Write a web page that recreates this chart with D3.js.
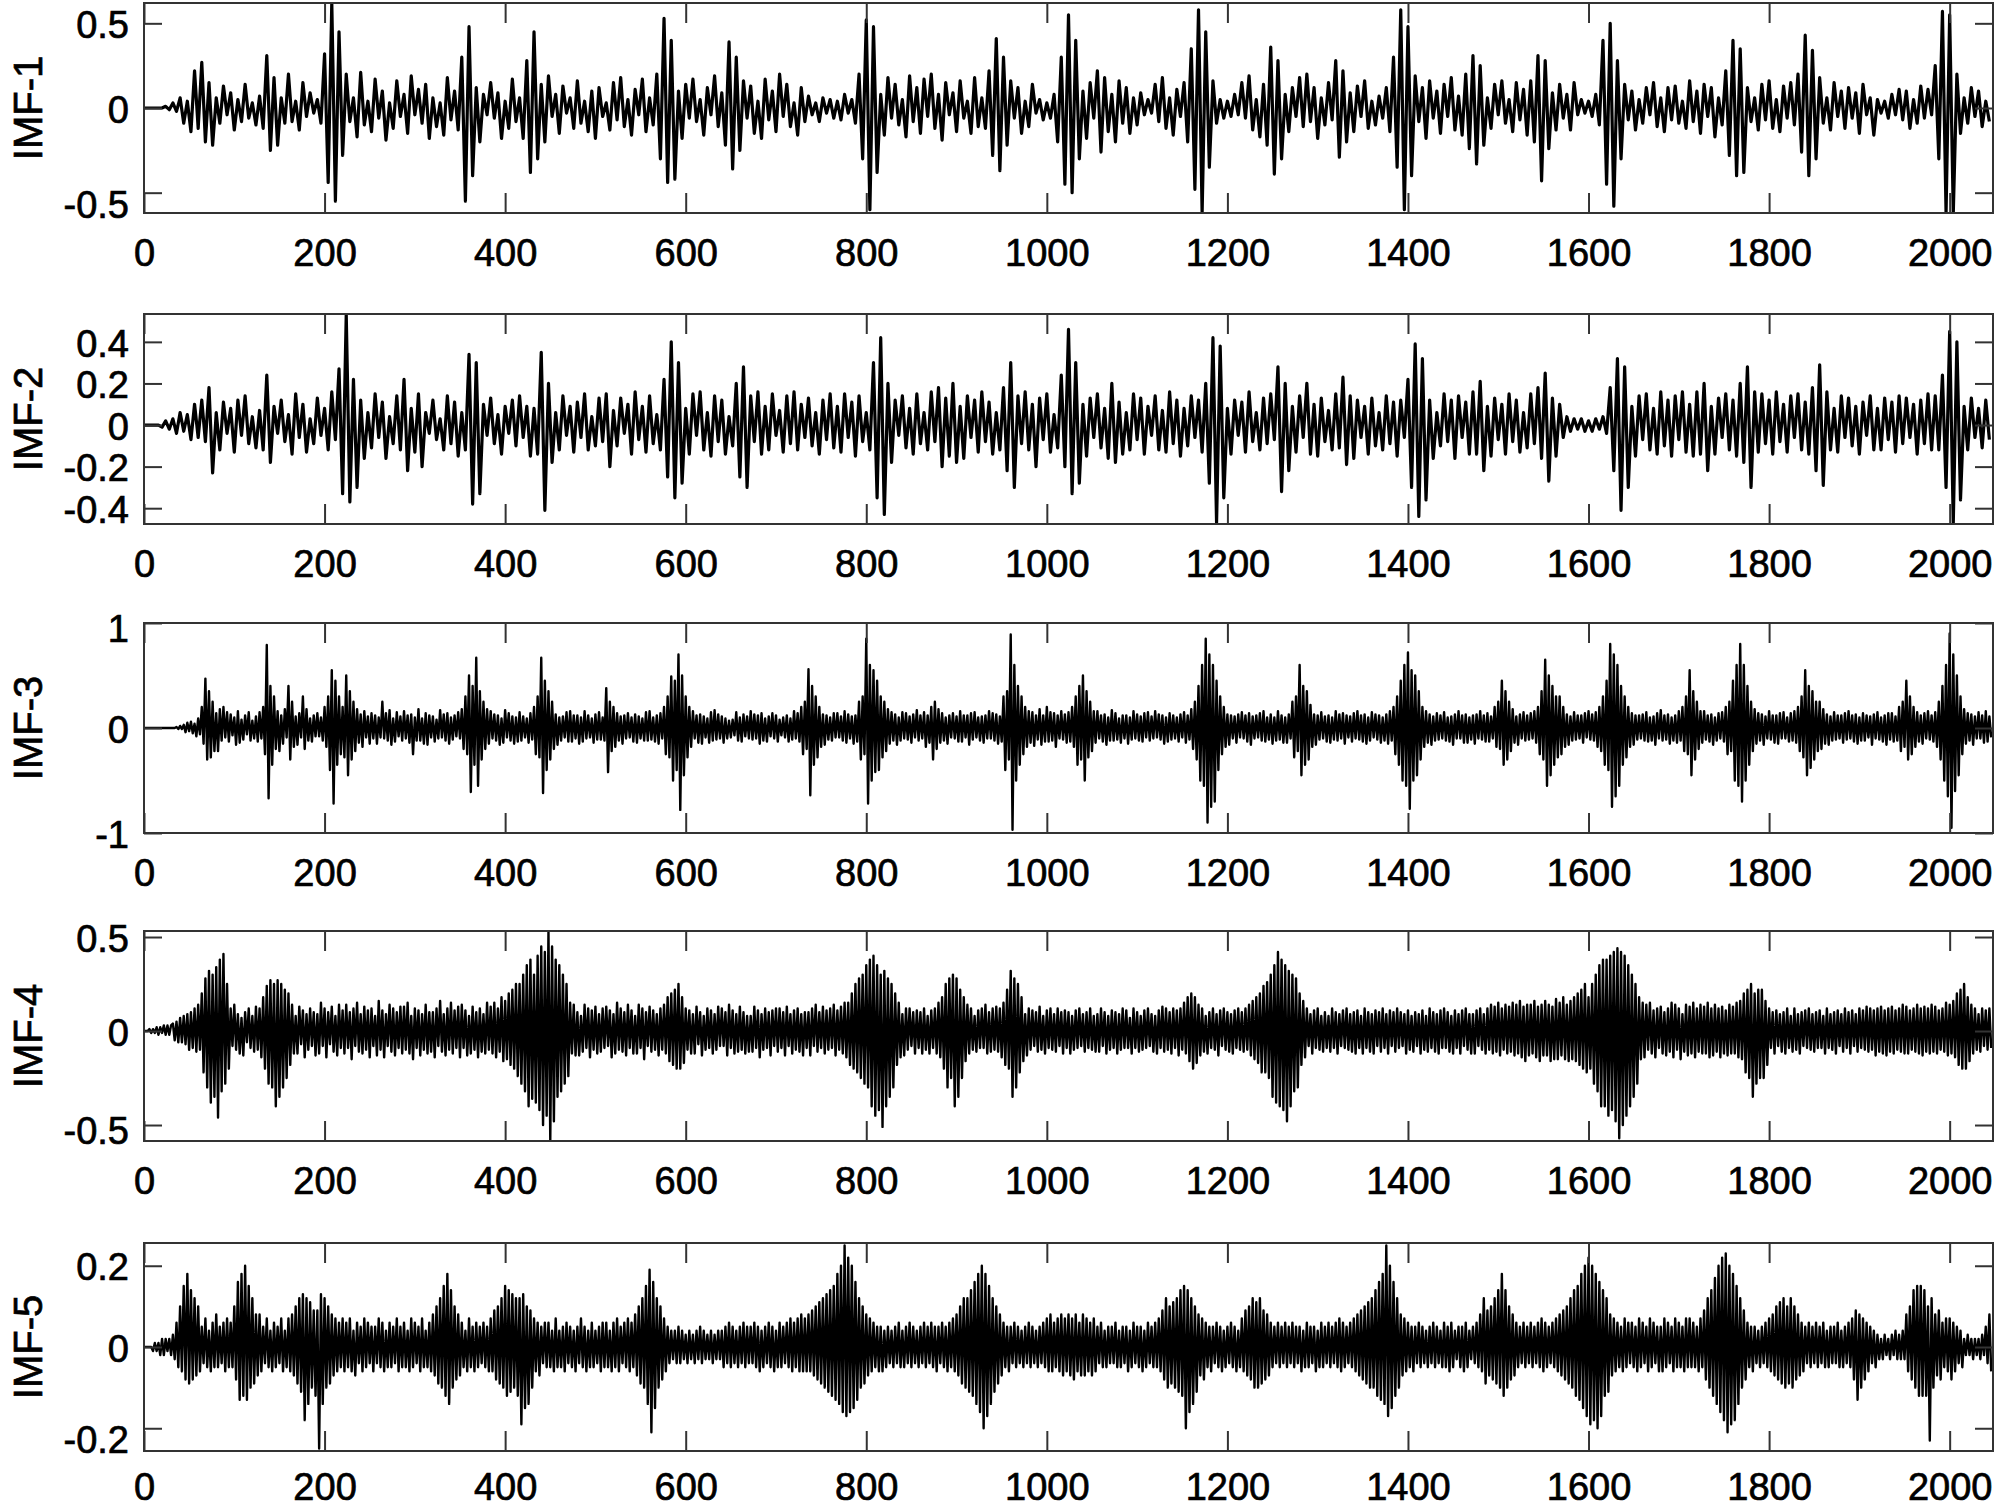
<!DOCTYPE html>
<html><head><meta charset="utf-8">
<script src="https://cdn.jsdelivr.net/npm/d3@7"></script>
<style>
body{margin:0;background:#fff}
svg text{font-family:"Liberation Sans",Arial,Helvetica,sans-serif;fill:#000}
</style>
</head><body>
<svg id="chart" width="2000" height="1510"></svg>
<script>
// ---------- DATA (values in hundredths; one value every N samples, N given per series) ----------
const VALUE_UNIT = 0.01;
const sampleSteps = [4, 4, 2, 2, 2];
const xTickValues = [0,200,400,600,800,1000,1200,1400,1600,1800,2000];
const seriesNames = ["IMF-1","IMF-2","IMF-3","IMF-4","IMF-5"];
const yTicks1 = [-0.5,0,0.5];
const yTicks2 = [-0.4,-0.2,0,0.2,0.4];
const yTicks3 = [-1,0,1];
const yTicks4 = [-0.5,0,0.5];
const yTicks5 = [-0.2,0,0.2];
const yDomain1 = [-0.62,0.62];
const yDomain2 = [-0.476,0.534];
const yDomain3 = [-1,1];
const yDomain4 = [-0.585,0.532];
const yDomain5 = [-0.256,0.256];

const imf1 = [
0,0,0,0,0,0,1,-1, 3,-2,6,-9,4,-14,22,-12, 27,-20,15,-22,6,-9,13,-4, 9,-13,5,-8,14,-6,3,-10, 7,-12,31,-25,18,-22,6,-9, 20,-8,4,-13,15,-5,9,-3, 5,-9,32,-44,62,-55,45,-28, 20,-8,6,-17,21,-10,4,-14,
17,-6,10,-19,3,-12,16,-5, 8,-15,19,-4,11,-9,14,-18, 6,-11,3,-16,18,-7,10,-13, 30,-55,48,-40,12,-20,8,-4, 15,-6,9,-18,4,-12,17,-8, 6,-18,28,-38,45,-30,14,-20, 19,-5,8,-15,13,-3,6,-12, 16,-9,4,-14,10,-18,12,-5,
3,-13,15,-7,18,-11,5,-16, 11,-4,17,-14,6,-10,20,-30, 53,-44,40,-42,10,-18,14,-6, 17,-8,5,-16,12,-4,19,-11, 9,-22,39,-36,30,-25,16,-6, 13,-15,4,-18,17,-7,10,-14, 20,-5,14,-11,3,-16,12,-8, 7,-4,3,-8,6,-3,5,-6,
4,-7,8,-3,5,-9,20,-30, 52,-60,48,-38,8,-16,18,-6, 14,-10,5,-17,19,-8,12,-15, 17,-5,20,-12,8,-19,15,-4, 9,-14,16,-6,4,-15,18,-11, 6,-12,22,-28,41,-37,30,-22, 16,-6,12,-15,4,-11,14,-3, 5,-7,3,-6,8,-20,30,-45,
55,-50,40,-30,10,-18,15,-6, 22,-26,18,-14,8,-20,16,-9, 12,-15,6,-10,9,-4,5,-3, 14,-8,18,-12,6,-16,11,-5, 15,-20,35,-48,58,-62,45,-35, 16,-9,5,-6,4,-5,8,-4, 15,-6,19,-13,5,-17,14,-22, 36,-39,28,-30,8,-14,12,-5,
18,-11,20,-8,12,-18,6,-10, 15,-7,28,-29,22,-20,9,-14, 13,-5,16,-12,4,-10,7,-6, 12,-14,30,-35,58,-60,48,-40, 19,-8,12,-18,16,-6,10,-15, 14,-5,18,-13,7,-16,20,-24, 31,-33,25,-22,6,-12,14,-4, 16,-9,5,-14,15,-7,11,-16,
16,-20,31,-43,28,-24,9,-13, 14,-6,8,-13,15,-4,5,-3, 4,-5,8,-10,40,-45,50,-58, 28,-30,14,-7,10,-13,5,-9, 12,-4,15,-11,6,-14,12,-7, 13,-9,4,-12,16,-8,10,-15, 14,-5,12,-17,6,-10,22,-28, 40,-40,35,-38,12,-8,6,-13,
14,-7,16,-12,5,-14,13,-6, 15,-10,20,-26,43,-40,34,-30, 18,-9,6,-13,15,-5,10,-12, 12,-6,9,-15,14,-4,6,-16, 5,-3,4,-6,8,-4,11,-7, 10,-12,5,-9,13,-6,11,-4, 25,-30,57,-62,55,-62,20,-15, 6,-9,12,-5,10,-11,4,-8
];

const imf2 = [
0,0,0,0,0,-1,2,-2, 3,-4,6,-3,5,-7,10,-6, 12,-8,18,-23,6,-12,11,-4, 8,-13,12,-5,14,-9,4,-11, 7,-12,24,-18,9,-4,12,-8, 5,-14,15,-6,10,-13,3,-9, 13,-5,8,-12,16,-7,27,-33, 53,-37,22,-30,12,-16,6,-11,
15,-6,11,-16,4,-9,14,-12, 22,-22,8,-13,15,-20,6,-4, 12,-7,3,-12,14,-9,11,-15, 6,-12,34,-38,30,-33,10,-5, 13,-9,5,-14,9,-4,12,-10, 14,-6,9,-15,8,-14,35,-41, 20,-18,6,-12,14,-5,9,-13, 11,-6,15,-12,4,-10,13,-8,
15,-20,7,-10,13,-4,10,-14, 16,-7,9,-13,14,-9,5,-12, 22,-25,40,-35,30,-28,8,-14, 15,-5,16,-12,6,-15,14,-8, 12,-14,4,-10,20,-25,28,-30, 14,-8,16,-14,9,-12,15,-5, 7,-13,14,-9,16,-12,10,-6, 13,-10,6,-14,12,-7,15,-11,
9,-13,15,-6,11,-15,14,-8, 6,-12,30,-35,42,-43,20,-18, 12,-5,14,-11,8,-14,15,-9, 6,-12,16,-8,18,-20,13,-15, 20,-18,9,-16,14,-6,12,-13, 16,-8,11,-14,6,-12,18,-22, 30,-30,14,-9,16,-12,10,-20, 13,-7,15,-13,5,-11,24,-20,
46,-33,30,-28,10,-15,13,-6, 15,-11,8,-16,20,-18,11,-14, 6,-12,15,-7,13,-14,9,-5, 14,-12,7,-13,16,-9,12,-15, 8,-10,14,-6,12,-13,20,-28, 42,-47,38,-35,8,-14,12,-5, 11,-13,16,-8,6,-12,13,-9, 15,-7,28,-32,20,-22,9,-13,
14,-6,20,-14,10,-15,13,-8, 7,-12,15,-11,23,-19,14,-16, 12,-6,9,-14,13,-10,6,-12, 14,-9,11,-15,12,-6,22,-30, 39,-44,32,-36,12,-16,6,-10, 15,-8,12,-16,14,-6,11,-14, 16,-14,21,-22,9,-15,13,-7, 10,-14,15,-8,12,-13,6,-11,
15,-9,18,-16,25,-27,13,-15, 10,-6,4,-3,3,-2,3,-3, 2,-3,3,-2,4,-4,18,-22, 32,-41,28,-30,9,-15,14,-7, 15,-12,8,-14,16,-10,12,-15, 14,-7,16,-13,10,-15,16,-14, 20,-22,9,-14,13,-6,15,-12, 12,-15,20,-18,28,-30,16,-13,
15,-9,12,-14,16,-8,10,-13, 14,-6,15,-12,11,-14,18,-22, 29,-29,16,-12,8,-13,14,-6, 13,-10,9,-14,11,-5,14,-12, 8,-12,13,-7,11,-13,14,-9, 13,-6,10,-14,12,-9,15,-12, 14,-12,24,-30,45,-47,40,-36, 9,-12,13,-6,8,-11,12,-7
];

const imf3 = [
0,0,0,0,0,0,0,0,0,0,0,0,0,0,0,0, 0,0,1,-1,2,-1,3,-4,5,-3,6,-5,4,-8,9,-6,
20,-15,47,-30,35,-28,25,-22,14,-22,18,-12,20,-9,15,-13, 13,-7,10,-16,16,-14,8,-11,12,-6,15,-12,7,-10,11,-13,
15,-10,20,-25,79,-67,40,-35,30,-20,16,-22,12,-15,18,-9, 40,-30,25,-18,11,-16,14,-9,30,-20,18,-12,9,-13,12,-8,
14,-8,10,-12,20,-18,30,-40,55,-72,45,-35,30,-25,20,-28, 50,-45,35,-30,25,-22,18,-14,13,-18,16,-9,11,-15,14,-10,
12,-15,10,-9,25,-10,14,-12,17,-16,9,-13,15,-8,11,-12, 16,-10,12,-14,13,-25,10,-12,18,-12,9,-15,14,-16,12,-9,
11,-13,8,-10,17,-9,13,-12,14,-15,10,-11,12,-8,15,-10, 18,-20,30,-25,50,-61,40,-35,67,-55,35,-30,25,-20,18,-15,
16,-10,13,-12,12,-16,9,-14,17,-9,14,-12,11,-15,10,-13, 15,-12,11,-9,9,-14,14,-11,20,-25,30,-28,67,-62,45,-40,
35,-30,25,-20,13,-16,10,-12,11,-9,15,-13,16,-13,12,-10, 12,-15,10,-13,16,-10,12,-9,9,-14,13,-11,15,-11,10,-12,
38,-42,25,-22,20,-18,14,-12,11,-15,12,-10,14,-9,10,-13, 13,-14,11,-10,9,-12,15,-12,16,-11,10,-13,12,-15,14,-10,
20,-25,30,-28,49,-50,45,-40,70,-78,50,-45,30,-28,20,-18, 16,-10,12,-14,13,-15,11,-9,9,-14,15,-12,17,-11,13,-10,
11,-14,9,-10,7,-9,8,-7,15,-12,10,-13,13,-8,11,-10, 16,-11,13,-10,12,-15,14,-12,9,-13,11,-8,14,-10,12,-13,
8,-7,10,-9,12,-13,9,-11,16,-10,14,-13,20,-25,25,-20, 56,-64,40,-35,30,-28,20,-18,13,-16,12,-11,10,-12,14,-9,
14,-9,11,-12,16,-14,13,-10,11,-15,12,-13,25,-30,30,-25, 85,-72,60,-50,55,-42,45,-40,30,-28,25,-22,18,-15,15,-12,
13,-16,10,-12,15,-10,14,-11,11,-14,13,-9,17,-12,12,-10, 15,-18,12,-14,20,-30,25,-20,18,-14,14,-12,10,-15,12,-9,
14,-10,11,-13,16,-13,12,-9,12,-16,14,-11,15,-9,10,-12, 11,-14,12,-10,16,-10,14,-12,13,-15,11,-13,30,-40,35,-30,
89,-97,60,-50,40,-35,30,-25,20,-18,16,-14,15,-17,12,-11, 18,-16,12,-13,20,-13,15,-12,14,-18,12,-10,16,-11,13,-14,
15,-13,20,-18,30,-35,40,-30,50,-50,35,-28,25,-22,16,-14, 16,-10,12,-13,13,-16,10,-12,17,-12,14,-11,9,-14,12,-10,
12,-15,10,-11,16,-10,13,-12,11,-13,14,-9,15,-12,11,-10, 16,-9,13,-11,12,-15,10,-13,14,-11,12,-10,10,-13,13,-9,
15,-14,12,-11,18,-20,25,-30,40,-50,60,-55,85,-90,70,-75, 60,-70,45,-40,30,-25,20,-18,13,-16,12,-10,11,-14,13,-9,
15,-10,12,-13,14,-16,11,-10,12,-9,14,-12,16,-13,10,-11, 13,-15,10,-12,16,-11,12,-14,10,-14,13,-10,25,-28,30,-22,
60,-45,40,-35,35,-30,22,-18,13,-16,12,-11,15,-10,11,-13, 12,-14,10,-11,16,-12,13,-10,14,-15,12,-9,11,-13,14,-10,
16,-11,12,-13,13,-15,10,-12,15,-9,13,-11,12,-14,10,-12, 13,-15,16,-12,20,-25,30,-35,45,-50,60,-55,72,-77,55,-50,
50,-45,35,-30,20,-18,16,-14,13,-16,11,-12,14,-11,12,-10, 15,-12,10,-13,11,-16,13,-10,16,-10,12,-14,13,-14,10,-11,
12,-15,13,-10,16,-11,12,-13,14,-13,11,-10,20,-18,25,-20, 45,-35,35,-30,25,-22,18,-14,11,-16,13,-10,15,-12,12,-11,
14,-10,16,-14,20,-25,35,-30,65,-55,50,-45,40,-35,30,-28, 30,-25,20,-18,13,-16,11,-12,15,-11,12,-10,12,-14,14,-9,
16,-11,13,-12,15,-18,20,-22,30,-35,45,-40,80,-75,70,-65, 60,-55,40,-35,30,-28,20,-18,14,-16,12,-11,12,-10,13,-12,
15,-13,10,-12,11,-16,14,-10,17,-12,12,-11,13,-15,10,-12, 12,-14,16,-12,20,-22,30,-25,55,-45,35,-30,25,-20,16,-14,
16,-11,12,-13,13,-16,10,-12,14,-10,15,-13,20,-25,25,-22, 45,-50,60,-55,80,-70,60,-50,40,-35,25,-22,18,-15,14,-12,
13,-16,11,-10,16,-11,12,-14,12,-15,14,-10,15,-10,10,-13, 14,-12,16,-14,20,-22,30,-28,55,-45,40,-38,35,-30,25,-22,
25,-20,18,-15,13,-16,11,-12,15,-11,12,-10,12,-14,14,-11, 16,-10,12,-13,13,-15,10,-12,14,-12,12,-9,11,-16,13,-10,
15,-11,10,-13,12,-16,14,-11,14,-13,11,-12,20,-22,25,-18, 45,-30,30,-25,20,-18,15,-13,12,-15,14,-10,16,-11,12,-13,
15,-18,25,-30,40,-50,60,-65,90,-95,70,-60,50,-45,30,-25, 18,-15,14,-12,13,-16,11,-10,15,-10,12,-14,16,-13,11,-9
];

const imf4 = [
0,0,0,1,-1,1,-1,2,-2,2,-1,3,-2,3,-2,3, 4,-5,5,-6,7,-6,8,-7,9,-10,10,-9,12,-11,14,-10,
20,-22,28,-30,32,-38,30,-35,34,-46,38,-32,41,-28,25,-20, 12,-8,14,-10,9,-12,7,-13,10,-6,12,-9,8,-11,13,-10,
12,-14,18,-20,24,-28,27,-30,25,-40,27,-35,25,-30,22,-25, 20,-18,14,-12,8,-12,13,-7,11,-14,9,-10,12,-8,10,-13,
9,-12,15,-8,12,-14,10,-7,13,-11,8,-13,14,-9,11,-12, 14,-9,10,-15,12,-8,15,-11,9,-12,13,-10,11,-14,12,-8,
8,-13,16,-10,11,-14,9,-8,14,-11,12,-13,10,-9,13,-12, 13,-10,15,-12,8,-15,12,-9,11,-13,9,-10,14,-12,10,-11,
10,-14,12,-8,16,-11,9,-13,12,-10,15,-12,11,-9,13,-14, 14,-9,11,-13,8,-12,13,-10,10,-14,12,-11,9,-12,15,-10,
13,-12,15,-14,12,-11,18,-16,16,-15,20,-18,22,-20,25,-24, 25,-28,30,-32,35,-40,38,-36,30,-38,40,-42,45,-50,42,-45,
53,-58,45,-48,38,-35,35,-32,30,-28,25,-24,15,-12,14,-13, 10,-13,8,-11,14,-9,12,-14,11,-10,13,-12,9,-11,12,-9,
13,-8,11,-14,9,-12,15,-10,12,-11,10,-13,14,-9,11,-12, 8,-12,14,-9,12,-15,10,-8,13,-11,11,-10,9,-13,12,-10,
14,-12,18,-16,20,-18,22,-20,25,-20,18,-17,12,-10,11,-12, 9,-12,13,-7,10,-13,8,-10,12,-9,11,-12,9,-10,13,-8,
12,-8,10,-13,14,-9,11,-12,9,-11,13,-10,10,-12,8,-11, 8,-11,13,-9,11,-14,9,-10,12,-9,10,-13,11,-8,12,-11,
12,-9,10,-13,13,-8,9,-12,11,-10,12,-11,9,-13,10,-9, 10,-13,12,-8,14,-11,10,-9,13,-12,11,-10,12,-9,14,-13,
11,-10,13,-12,15,-14,15,-18,20,-20,25,-22,28,-25,30,-28, 35,-30,38,-40,40,-45,35,-42,30,-51,32,-40,28,-35,25,-30,
20,-18,15,-14,9,-13,12,-10,12,-8,10,-12,11,-9,10,-12, 12,-10,8,-12,11,-9,12,-12,15,-14,18,-20,25,-30,28,-25,
30,-40,28,-35,22,-25,18,-16,14,-12,12,-10,8,-11,11,-9, 12,-9,14,-12,10,-11,12,-10,13,-11,12,-14,15,-18,22,-20,
32,-35,28,-30,25,-22,18,-16,9,-13,12,-10,11,-8,10,-11, 13,-10,8,-12,11,-9,12,-10,9,-11,12,-8,10,-12,11,-9,
10,-12,8,-10,11,-9,12,-8,9,-11,10,-9,12,-10,8,-11, 9,-11,12,-8,10,-12,8,-10,11,-9,10,-12,9,-10,12,-9,
11,-9,7,-12,12,-9,10,-11,8,-10,11,-9,12,-8,9,-11, 8,-12,11,-9,13,-11,12,-10,10,-12,12,-9,11,-13,12,-10,
15,-12,18,-16,20,-20,18,-17,14,-13,12,-11,8,-12,10,-9, 12,-10,9,-13,11,-8,12,-10,10,-11,9,-12,11,-9,12,-10,
10,-11,12,-10,14,-13,16,-15,18,-17,20,-22,24,-22,26,-25, 30,-35,35,-38,42,-40,38,-42,35,-48,32,-40,30,-32,28,-30,
20,-18,16,-14,12,-8,9,-12,11,-9,12,-10,8,-11,10,-9, 8,-11,12,-9,10,-12,9,-8,11,-9,12,-10,9,-11,10,-12,
11,-9,8,-12,12,-9,10,-11,9,-12,11,-8,10,-11,12,-9, 9,-12,11,-8,10,-11,12,-9,10,-8,9,-12,11,-10,8,-11,
10,-8,9,-12,11,-10,8,-11,12,-9,10,-11,9,-12,11,-9, 12,-9,10,-11,8,-12,11,-9,9,-12,11,-8,12,-10,9,-12,
9,-12,11,-8,12,-10,9,-12,12,-10,14,-12,13,-11,15,-13, 12,-10,14,-12,13,-11,15,-13,14,-12,16,-14,13,-16,14,-13,
14,-12,16,-14,13,-16,14,-13,16,-13,14,-16,13,-15,17,-15, 15,-13,18,-15,14,-16,16,-15,18,-16,20,-18,22,-20,25,-22,
18,-20,25,-28,30,-32,35,-40,38,-40,38,-45,40,-42,42,-48, 44,-57,42,-50,40,-45,35,-40,30,-35,25,-28,18,-15,15,-14,
14,-10,15,-12,11,-14,12,-9,13,-12,10,-13,12,-11,15,-14, 14,-10,12,-15,9,-11,14,-13,13,-12,15,-14,12,-11,14,-12,
13,-12,15,-14,12,-13,14,-11,12,-14,13,-12,11,-13,14,-12, 13,-12,15,-14,16,-15,20,-22,22,-25,25,-35,20,-28,22,-25,
22,-25,16,-18,12,-9,10,-12,11,-8,9,-11,10,-12,12,-9, 8,-11,12,-10,9,-12,10,-8,11,-9,12,-10,9,-11,10,-9,
11,-9,8,-12,12,-9,9,-10,10,-12,11,-8,9,-11,12,-9, 10,-12,11,-8,9,-11,12,-9,11,-10,13,-11,12,-10,11,-13,
12,-11,13,-12,11,-13,12,-11,13,-12,11,-10,12,-11,14,-12, 13,-12,11,-10,12,-11,14,-12,12,-13,13,-11,12,-12,14,-11,
13,-12,11,-10,12,-11,15,-13,14,-12,16,-14,20,-18,22,-20, 25,-20,18,-16,14,-12,12,-10,9,-11,12,-8,11,-10,12,-9
];

const imf5 = [
0,0,0,0,0,-1,1,-1,1,-2,2,-2,2,-1,2,-2, 3,-3,6,-5,10,-6,15,-8,18,-9,14,-8,12,-7,10,-6,
5,-4,7,-5,4,-6,6,-5,8,-5,5,-4,6,-6,7,-5, 6,-5,10,-8,16,-13,18,-12,20,-13,15,-10,12,-9,8,-7,
8,-6,5,-4,7,-5,4,-6,6,-5,5,-4,7,-6,4,-5, 7,-6,8,-7,10,-9,12,-11,13,-18,12,-14,11,-10,9,-12,
9,-25,13,-14,12,-10,10,-9,8,-7,7,-6,6,-5,7,-6, 6,-5,7,-6,4,-7,6,-4,5,-6,7,-5,6,-4,5,-6,
5,-4,7,-5,6,-6,4,-5,6,-5,5,-4,7,-6,5,-5, 6,-5,4,-6,7,-5,6,-4,5,-6,7,-5,4,-5,6,-6,
8,-7,10,-9,12,-10,15,-12,18,-14,14,-10,10,-8,8,-7, 6,-5,4,-6,7,-5,5,-6,6,-5,5,-4,6,-5,5,-6,
7,-6,9,-8,10,-9,12,-10,15,-12,14,-11,13,-10,12,-12, 12,-19,13,-15,10,-14,9,-10,7,-6,6,-7,5,-4,6,-5,
6,-5,4,-6,7,-5,4,-5,5,-6,6,-4,5,-5,4,-6, 5,-4,7,-5,5,-6,4,-5,6,-5,4,-4,5,-6,6,-5,
6,-5,4,-6,6,-5,7,-6,5,-4,6,-5,7,-6,6,-5, 8,-7,10,-9,12,-10,15,-14,19,-21,16,-15,12,-10,10,-8,
7,-6,5,-4,4,-3,4,-4,5,-4,4,-3,3,-4,4,-3, 3,-4,4,-3,5,-4,4,-3,3,-3,4,-4,3,-3,4,-3,
4,-5,5,-4,6,-5,5,-4,4,-5,5,-4,6,-5,5,-4, 5,-4,6,-5,5,-6,4,-5,5,-4,6,-5,5,-6,4,-5,
6,-5,5,-4,6,-5,7,-6,6,-5,7,-6,8,-6,7,-6, 8,-6,9,-7,10,-8,11,-9,12,-10,13,-11,14,-12,15,-13,
18,-14,20,-16,25,-17,22,-16,20,-15,16,-13,12,-10,10,-9, 8,-7,7,-6,6,-5,5,-6,5,-6,4,-5,5,-4,4,-5,
5,-4,6,-5,4,-5,5,-4,6,-5,5,-4,4,-5,5,-4, 6,-5,5,-4,6,-5,5,-6,5,-4,6,-5,5,-6,6,-5,
7,-6,8,-7,10,-9,12,-10,12,-11,14,-12,16,-14,18,-16, 20,-20,18,-17,15,-14,12,-11,10,-9,8,-7,6,-5,5,-6,
5,-4,6,-5,5,-4,4,-5,5,-4,6,-5,5,-4,4,-5, 5,-4,6,-5,7,-6,8,-6,6,-5,7,-6,8,-7,7,-6,
8,-7,7,-8,8,-6,6,-7,8,-7,7,-6,6,-7,7,-6, 5,-4,6,-5,4,-5,5,-4,5,-4,6,-5,4,-5,5,-4,
5,-6,4,-5,6,-4,5,-5,5,-6,4,-5,6,-4,5,-5, 6,-5,7,-6,9,-8,12,-10,10,-9,11,-10,12,-11,14,-12,
15,-20,14,-16,12,-14,10,-11,8,-7,7,-8,6,-5,5,-6, 5,-4,6,-5,5,-6,4,-5,5,-4,6,-5,5,-6,4,-5,
7,-6,9,-7,10,-8,12,-10,11,-10,12,-9,9,-8,8,-7, 6,-5,5,-4,6,-5,5,-4,6,-5,5,-4,6,-5,5,-4,
5,-6,4,-5,6,-5,5,-4,5,-6,4,-5,6,-5,5,-4, 6,-5,5,-4,6,-5,7,-6,6,-5,5,-4,6,-5,7,-6,
8,-7,9,-8,10,-9,11,-10,12,-10,14,-12,16,-13,18,-14, 25,-17,20,-15,16,-12,12,-10,8,-7,7,-6,6,-5,5,-6,
5,-4,6,-5,5,-4,4,-5,5,-4,6,-5,5,-4,4,-5, 6,-5,5,-6,6,-5,4,-3,5,-5,5,-6,6,-5,4,-3,
5,-4,6,-5,8,-6,12,-9,9,-7,10,-8,12,-9,14,-10, 18,-12,14,-10,10,-8,8,-7,6,-5,5,-4,6,-5,5,-4,
6,-5,5,-4,6,-5,7,-6,6,-5,5,-4,6,-5,7,-6, 8,-7,9,-8,10,-9,12,-10,14,-12,15,-13,18,-15,20,-17,
22,-19,20,-18,18,-20,16,-17,14,-12,12,-11,8,-7,7,-6, 6,-5,5,-6,7,-5,6,-4,6,-5,5,-6,7,-5,6,-4,
5,-6,7,-5,6,-4,5,-6,5,-6,7,-5,6,-4,5,-6, 7,-5,6,-5,5,-6,7,-5,7,-5,6,-5,5,-6,7,-5,
9,-8,12,-10,14,-12,17,-14,20,-16,22,-18,23,-21,20,-19, 18,-18,15,-14,12,-10,9,-8,6,-5,5,-6,5,-4,4,-5,
5,-4,6,-5,7,-6,8,-7,10,-8,11,-9,12,-10,10,-9, 12,-10,10,-8,8,-7,6,-6,5,-4,6,-5,5,-4,6,-5,
5,-4,6,-5,4,-5,5,-4,5,-4,6,-5,4,-5,5,-4, 6,-5,7,-8,9,-13,8,-10,7,-8,6,-6,5,-4,4,-5,
3,-3,2,-3,3,-2,2,-3,3,-2,4,-3,3,-3,4,-3, 8,-6,10,-8,14,-10,15,-12,15,-12,14,-12,10,-23,12,-10,
8,-7,9,-8,6,-5,7,-6,7,-8,6,-6,5,-4,4,-5, 2,-2,3,-2,2,-3,2,-2,2,-3,3,-2,5,-4,8,-6
];

// ---------- LAYOUT ----------
const seriesData = [imf1, imf2, imf3, imf4, imf5];
const yTickSets = [yTicks1, yTicks2, yTicks3, yTicks4, yTicks5];
const yDomains = [yDomain1, yDomain2, yDomain3, yDomain4, yDomain5];
const panelTops = [3, 314, 623, 931, 1243];
const panelBottoms = [213, 524, 833, 1141, 1451];
const strokeWidths = [3.2, 3.2, 2.4, 2.4, 2.4];
const xLabelPads = [26, 26, 26, 26, 22];
const labelNudges = [{"-0.5":13}, {}, {"1":6}, {"-0.5":6}, {"-0.2":12}];
const LEFT = 144, RIGHT = 1993;
const FONT = 38;

const svg = d3.select("#chart");
const x = d3.scaleLinear().domain([0, 2048]).range([LEFT, RIGHT]);

seriesNames.forEach((name, p) => {
  const top = panelTops[p], bottom = panelBottoms[p];
  const y = d3.scaleLinear().domain(yDomains[p]).range([bottom, top]);
  const g = svg.append("g");

  const clipId = "clip" + p;
  g.append("clipPath").attr("id", clipId).append("rect")
    .attr("x", LEFT).attr("y", top).attr("width", RIGHT - LEFT).attr("height", bottom - top);

  const step = sampleSteps[p];
  const line = d3.line()
    .x((d, i) => x(i * step))
    .y(d => y(d * VALUE_UNIT));

  g.append("path")
    .datum(seriesData[p])
    .attr("clip-path", `url(#${clipId})`)
    .attr("fill", "none")
    .attr("stroke", "#000")
    .attr("stroke-width", strokeWidths[p])
    .attr("stroke-linejoin", "round")
    .attr("d", line);

  g.append("g").attr("transform", `translate(0,${bottom})`)
    .call(d3.axisBottom(x).tickValues(xTickValues).tickSizeInner(-20).tickSizeOuter(0).tickPadding(xLabelPads[p]).tickFormat(d3.format("d")));
  g.append("g").attr("transform", `translate(0,${top})`)
    .call(d3.axisTop(x).tickValues(xTickValues).tickSizeInner(-20).tickSizeOuter(0).tickFormat(""));
  const ay = g.append("g").attr("transform", `translate(${LEFT},0)`)
    .call(d3.axisLeft(y).tickValues(yTickSets[p]).tickSizeInner(-18).tickSizeOuter(0).tickPadding(15).tickFormat(d => String(d)));
  g.append("g").attr("transform", `translate(${RIGHT},0)`)
    .call(d3.axisRight(y).tickValues(yTickSets[p]).tickSizeInner(-18).tickSizeOuter(0).tickFormat(""));

  g.selectAll(".domain").remove();
  g.selectAll(".tick line").attr("stroke", "#333").attr("stroke-width", 2);
  g.selectAll(".tick text").attr("font-size", FONT)
    .attr("font-family", "'Liberation Sans', Arial, sans-serif")
    .attr("fill", "#000").attr("stroke", "#000").attr("stroke-width", 0.7);
  ay.selectAll(".tick text").attr("transform", d => {
    const n = labelNudges[p][String(d)] || 2;
    return `translate(0,${n})`;
  });

  g.append("rect").attr("x", LEFT).attr("y", top).attr("width", RIGHT - LEFT).attr("height", bottom - top)
    .attr("fill", "none").attr("stroke", "#333").attr("stroke-width", 2);

  g.append("text")
    .attr("transform", `translate(42,${(top + bottom) / 2}) rotate(-90)`)
    .attr("text-anchor", "middle")
    .attr("font-size", 40)
    .attr("stroke", "#000").attr("stroke-width", 0.7)
    .text(name);
});
</script>
</body></html>
